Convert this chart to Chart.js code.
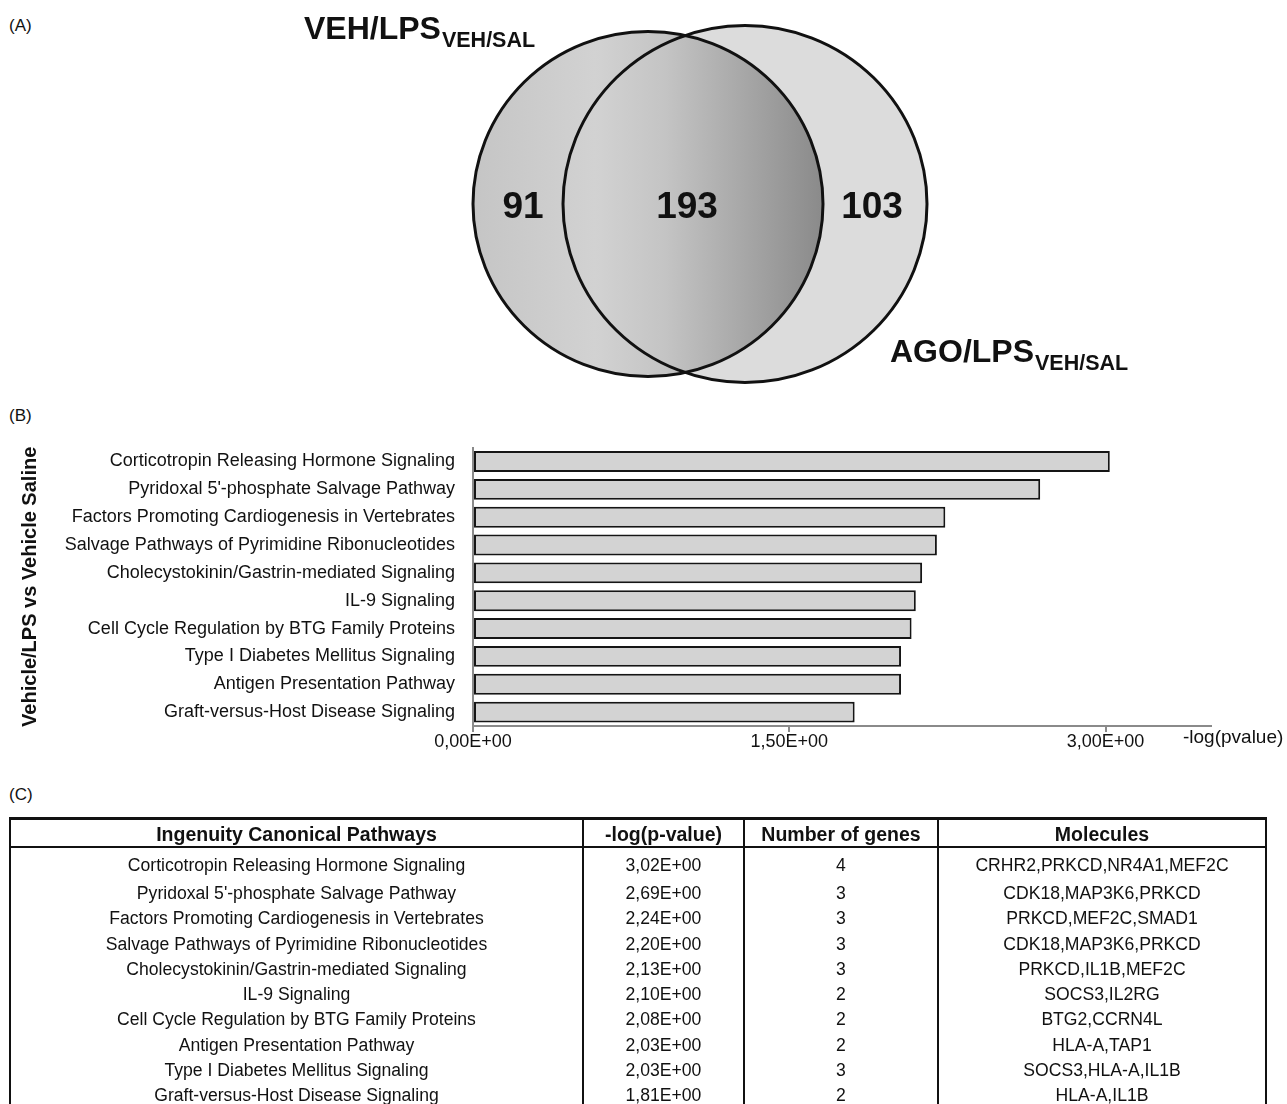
<!DOCTYPE html>
<html>
<head>
<meta charset="utf-8">
<script src="https://cdn.jsdelivr.net/npm/chart.js@4/dist/chart.umd.min.js"></script>
<style>
  html, body { margin:0; padding:0; background:#fff; }
  body { width:1287px; height:1104px; position:relative; overflow:hidden;
         font-family:"Liberation Sans", Arial, sans-serif; color:#111; }
  .abs { position:absolute; }
  .plabel { position:absolute; left:9px; font-size:17px; line-height:20px; }
  .line { position:absolute; background:#111; }
  .cell { position:absolute; text-align:center; white-space:nowrap; }
  .hdr { font-weight:bold; font-size:19.5px; line-height:22px; }
  .body { font-size:17.6px; line-height:20px; }
</style>
</head>
<body>
<div class="plabel" style="top:16px">(A)</div>
<div class="plabel" style="top:406px">(B)</div>
<div class="plabel" style="top:785px">(C)</div>

<div class="abs" style="left:0;top:0;width:1287px;height:400px"><canvas id="venn" width="1287" height="400"></canvas></div>
<div class="abs" style="left:0;top:430px;width:1287px;height:330px"><canvas id="bars" width="1287" height="330"></canvas></div>
<div id="table" class="abs" style="left:0;top:0;width:1287px;height:1104px"></div>

<script>
// ---------- DATA ----------
const vennSetNames = ["VEH/LPS", "AGO/LPS"];
const vennSubscript = "VEH/SAL";
const vennCounts = [91, 193, 103]; // left only, shared, right only

const chartPathways = [
  "Corticotropin Releasing Hormone Signaling",
  "Pyridoxal 5'-phosphate Salvage Pathway",
  "Factors Promoting Cardiogenesis in Vertebrates",
  "Salvage Pathways of Pyrimidine Ribonucleotides",
  "Cholecystokinin/Gastrin-mediated Signaling",
  "IL-9 Signaling",
  "Cell Cycle Regulation by BTG Family Proteins",
  "Type I Diabetes Mellitus Signaling",
  "Antigen Presentation Pathway",
  "Graft-versus-Host Disease Signaling"
];
const chartValues = [3.02, 2.69, 2.24, 2.20, 2.13, 2.10, 2.08, 2.03, 2.03, 1.81];
const xTickValues = [0, 1.5, 3.0];
const xTickLabels = ["0,00E+00", "1,50E+00", "3,00E+00"];
const yAxisTitle = "Vehicle/LPS vs Vehicle Saline";
const xAxisTitle = "-log(pvalue)";

const tableHeaders = ["Ingenuity Canonical Pathways", "-log(p-value)", "Number of genes", "Molecules"];
const tablePathways = [
  "Corticotropin Releasing Hormone Signaling",
  "Pyridoxal 5'-phosphate Salvage Pathway",
  "Factors Promoting Cardiogenesis in Vertebrates",
  "Salvage Pathways of Pyrimidine Ribonucleotides",
  "Cholecystokinin/Gastrin-mediated Signaling",
  "IL-9 Signaling",
  "Cell Cycle Regulation by BTG Family Proteins",
  "Antigen Presentation Pathway",
  "Type I Diabetes Mellitus Signaling",
  "Graft-versus-Host Disease Signaling"
];
const tableLogP = ["3,02E+00","2,69E+00","2,24E+00","2,20E+00","2,13E+00","2,10E+00","2,08E+00","2,03E+00","2,03E+00","1,81E+00"];
const tableGenes = [4, 3, 3, 3, 3, 2, 2, 2, 3, 2];
const tableMolecules = [
  "CRHR2,PRKCD,NR4A1,MEF2C",
  "CDK18,MAP3K6,PRKCD",
  "PRKCD,MEF2C,SMAD1",
  "CDK18,MAP3K6,PRKCD",
  "PRKCD,IL1B,MEF2C",
  "SOCS3,IL2RG",
  "BTG2,CCRN4L",
  "HLA-A,TAP1",
  "SOCS3,HLA-A,IL1B",
  "HLA-A,IL1B"
];

// ---------- COMMON ----------
const FAMILY = '"Liberation Sans", Arial, sans-serif';
Chart.defaults.font.family = FAMILY;
Chart.defaults.color = '#111';

// ---------- (A) VENN ----------
const vennPlugin = {
  id: 'venn',
  afterDraw(chart) {
    const ctx = chart.ctx;
    const L = {cx: 648, cy: 204, rx: 175, ry: 172.5};
    const R = {cx: 745, cy: 204, rx: 182, ry: 178.5};
    ctx.save();
    ctx.beginPath(); ctx.ellipse(R.cx, R.cy, R.rx, R.ry, 0, 0, Math.PI * 2);
    ctx.fillStyle = '#dcdcdc'; ctx.fill();
    const g = ctx.createLinearGradient(L.cx - L.rx, 0, L.cx + L.rx, 0);
    g.addColorStop(0, '#c5c5c5');
    g.addColorStop(0.35, '#d2d2d2');
    g.addColorStop(0.55, '#c4c4c4');
    g.addColorStop(1, '#8a8a8a');
    ctx.beginPath(); ctx.ellipse(L.cx, L.cy, L.rx, L.ry, 0, 0, Math.PI * 2);
    ctx.fillStyle = g; ctx.fill();
    ctx.lineWidth = 3; ctx.strokeStyle = '#111';
    ctx.beginPath(); ctx.ellipse(R.cx, R.cy, R.rx, R.ry, 0, 0, Math.PI * 2); ctx.stroke();
    ctx.beginPath(); ctx.ellipse(L.cx, L.cy, L.rx, L.ry, 0, 0, Math.PI * 2); ctx.stroke();

    ctx.fillStyle = '#111';
    ctx.font = 'bold 37px ' + FAMILY;
    ctx.textAlign = 'center'; ctx.textBaseline = 'alphabetic';
    const countX = [523, 687, 872];
    vennCounts.forEach((c, i) => ctx.fillText(String(c), countX[i], 218));

    function title(name, x, y) {
      ctx.textAlign = 'left';
      ctx.font = 'bold 32px ' + FAMILY;
      ctx.fillText(name, x, y);
      const w = ctx.measureText(name).width;
      ctx.font = 'bold 21.5px ' + FAMILY;
      ctx.fillText(vennSubscript, x + w + 1, y + 8);
    }
    title(vennSetNames[0], 304, 39);
    title(vennSetNames[1], 890, 362);
    ctx.restore();
  }
};
new Chart(document.getElementById('venn'), {
  type: 'scatter',
  data: { datasets: [] },
  options: {
    responsive: false, animation: false,
    plugins: { legend: { display: false }, tooltip: { enabled: false } },
    scales: { x: { display: false }, y: { display: false } }
  },
  plugins: [vennPlugin]
});

// ---------- (B) BAR CHART ----------
const xTitlePlugin = {
  id: 'xTitle',
  afterDraw(chart) {
    const ctx = chart.ctx;
    ctx.save();
    ctx.fillStyle = '#111';
    ctx.font = '19px ' + FAMILY;
    ctx.textAlign = 'left'; ctx.textBaseline = 'alphabetic';
    ctx.fillText(xAxisTitle, chart.chartArea.right - 28, chart.chartArea.bottom + 17);
    ctx.restore();
  }
};
new Chart(document.getElementById('bars'), {
  type: 'bar',
  data: {
    labels: chartPathways,
    datasets: [{
      data: chartValues,
      backgroundColor: '#d3d3d3',
      borderColor: '#151515',
      borderWidth: 2,
      borderSkipped: false,
      barPercentage: 0.75,
      categoryPercentage: 1.0
    }]
  },
  options: {
    indexAxis: 'y',
    responsive: false, animation: false,
    layout: { padding: { top: 17.6, right: 76, bottom: 0, left: 0 } },
    plugins: { legend: { display: false }, tooltip: { enabled: false } },
    scales: {
      x: {
        min: 0, max: 3.5,
        afterBuildTicks: s => { s.ticks = xTickValues.map(v => ({ value: v })); },
        ticks: {
          callback: (v, i) => xTickLabels[i],
          font: { size: 18 }, color: '#111', padding: -1,
          maxRotation: 0, autoSkip: false
        },
        grid: { drawOnChartArea: false, drawTicks: true, tickLength: 6, color: '#8a8a8a', lineWidth: 2 },
        border: { display: true, color: '#8a8a8a', width: 2 },
        afterFit: s => { s.height = 34; s.paddingLeft = 0; s.paddingRight = 0; }
      },
      y: {
        ticks: { font: { size: 18 }, color: '#111', padding: 18, autoSkip: false },
        grid: { display: false, drawTicks: false },
        border: { display: true, color: '#8a8a8a', width: 2 },
        title: {
          display: true, text: yAxisTitle, color: '#111',
          font: { size: 20, weight: 'bold' }, padding: { top: 18, bottom: 0 }
        },
        afterFit: s => { s.width = 473; s.paddingTop = 0; s.paddingBottom = 0; }
      }
    }
  },
  plugins: [xTitlePlugin]
});

// ---------- (C) TABLE ----------
(function buildTable() {
  const host = document.getElementById('table');
  const colEdges = [10, 583, 744, 938, 1266];
  const tableTop = 818, headerBottom = 847, bottom = 1110;
  function line(x, y, w, h) {
    const d = document.createElement('div');
    d.className = 'line';
    d.style.left = x + 'px'; d.style.top = y + 'px';
    d.style.width = w + 'px'; d.style.height = h + 'px';
    host.appendChild(d);
  }
  line(colEdges[0] - 1, tableTop - 1.5, colEdges[4] - colEdges[0] + 2, 3);
  line(colEdges[0] - 1, headerBottom - 1, colEdges[4] - colEdges[0] + 2, 2);
  colEdges.forEach(x => line(x - 1, tableTop - 1.5, 2, bottom - tableTop));

  function cell(text, col, top, cls) {
    const d = document.createElement('div');
    d.className = 'cell ' + cls;
    d.style.left = colEdges[col] + 'px';
    d.style.width = (colEdges[col + 1] - colEdges[col]) + 'px';
    d.style.top = top + 'px';
    d.textContent = text;
    host.appendChild(d);
  }
  tableHeaders.forEach((h, i) => cell(h, i, 823.2, 'hdr'));
  tablePathways.forEach((p, r) => {
    const center = r === 0 ? 865 : 893 + 25.25 * (r - 1);
    const top = center - 9.8;
    cell(p, 0, top, 'body');
    cell(tableLogP[r], 1, top, 'body');
    cell(String(tableGenes[r]), 2, top, 'body');
    cell(tableMolecules[r], 3, top, 'body');
  });
})();
</script>
</body>
</html>
